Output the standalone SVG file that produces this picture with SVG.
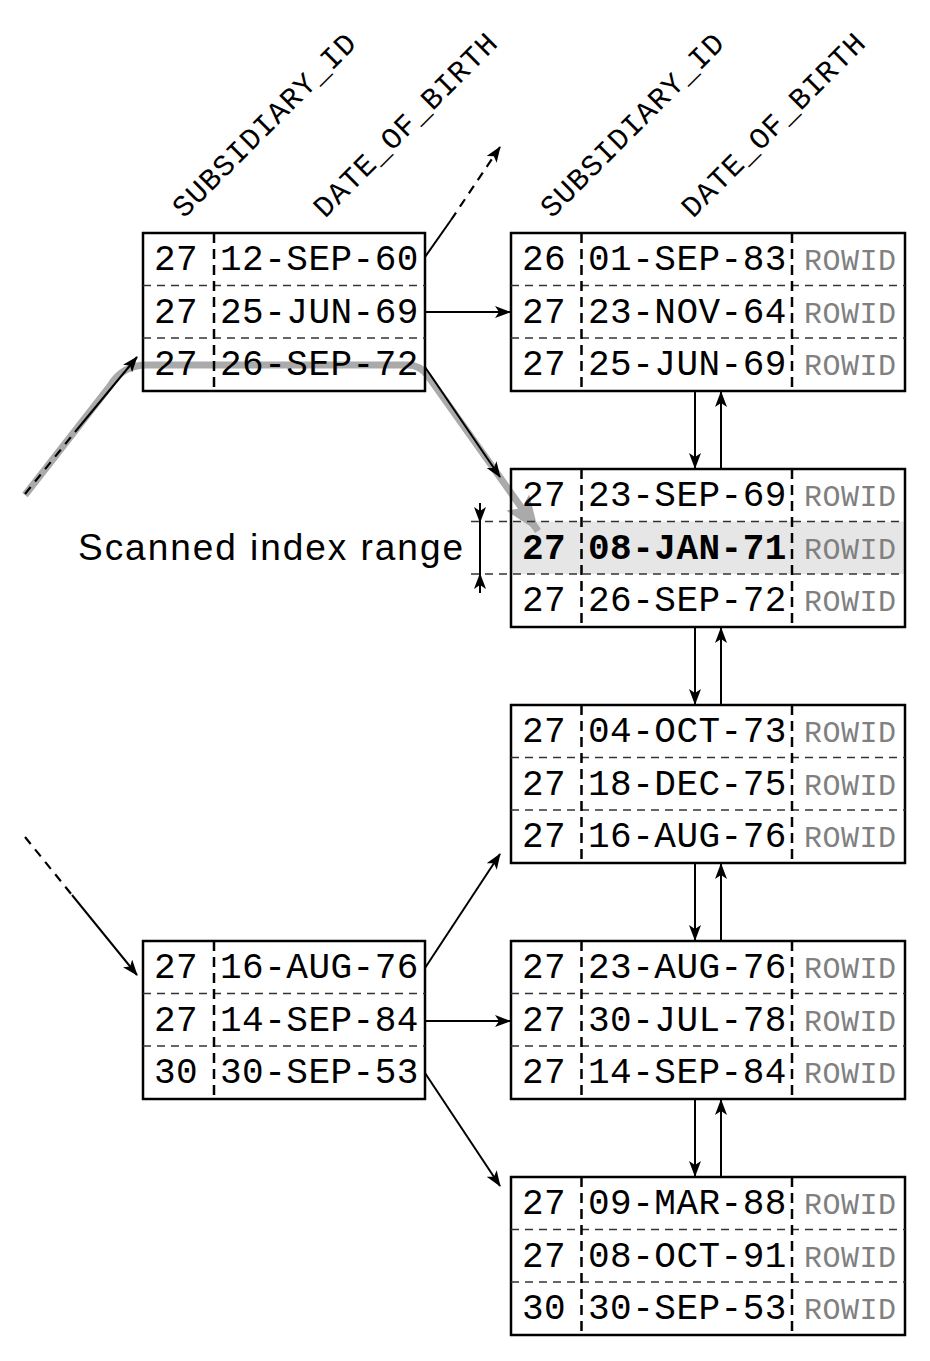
<svg xmlns="http://www.w3.org/2000/svg" width="930" height="1361" viewBox="0 0 930 1361">
<style>
.box{fill:none;stroke:#000;stroke-width:2.5}
.sep{stroke:#333;stroke-width:1.5;stroke-dasharray:8,6;fill:none}
.col{stroke:#000;stroke-width:2.5;stroke-dasharray:10,6;fill:none}
.t{font-family:"Liberation Mono","Courier New",monospace;font-size:36px;fill:#000;letter-spacing:0.5px}
.r{font-family:"Liberation Mono","Courier New",monospace;font-size:30px;fill:#808080;letter-spacing:0.5px}
.h{font-family:"Liberation Mono","Courier New",monospace;font-size:30px;fill:#000;letter-spacing:1px}
.b{font-weight:bold}
.ln{stroke:#000;stroke-width:2;fill:none}
.dl{stroke:#000;stroke-width:2.2;fill:none;stroke-dasharray:9,7}
.lbl{font-family:"Liberation Sans",Arial,sans-serif;font-size:37px;fill:#000}
</style>
<defs>
<marker id="ah" markerWidth="16" markerHeight="12" refX="15" refY="6" orient="auto" markerUnits="userSpaceOnUse">
<path d="M0,0 L16,6 L0,12 L4,6 z" fill="#000"/>
</marker>
<marker id="ga" markerWidth="36" markerHeight="28" refX="35" refY="14" orient="auto" markerUnits="userSpaceOnUse">
<path d="M0,0 L36,14 L0,28 L7,14 z" fill="#aaaaaa"/>
</marker>
</defs>

<g id="highlight">
<rect x="511" y="521.5" width="394" height="52.5" fill="#e6e6e6"/>
</g>

<g id="scan-path">
<path d="M25,495 L110,386 Q122,365 147,365 L408,365 Q420,365 428,376 L538,531" stroke="#aaaaaa" stroke-width="7" fill="none" marker-end="url(#ga)"/>
</g>

<g id="headers">
<text class="h" transform="translate(184,219) rotate(-45)">SUBSIDIARY_ID</text>
<text class="h" transform="translate(325,219) rotate(-45)">DATE_OF_BIRTH</text>
<text class="h" transform="translate(552,219) rotate(-45)">SUBSIDIARY_ID</text>
<text class="h" transform="translate(693,219) rotate(-45)">DATE_OF_BIRTH</text>
</g>

<g id="branch-top">
<rect class="box" x="143" y="233" width="282" height="158"/>
<line class="sep" x1="143" y1="285.5" x2="425" y2="285.5"/>
<line class="sep" x1="143" y1="338" x2="425" y2="338"/>
<line class="col" x1="214" y1="233" x2="214" y2="391"/>
<text class="t" x="154" y="270">27</text><text class="t" x="220" y="270">12-SEP-60</text>
<text class="t" x="154" y="322.5">27</text><text class="t" x="220" y="322.5">25-JUN-69</text>
<text class="t" x="154" y="375">27</text><text class="t" x="220" y="375">26-SEP-72</text>
</g>

<g id="branch-bottom">
<rect class="box" x="143" y="941" width="282" height="158"/>
<line class="sep" x1="143" y1="993.5" x2="425" y2="993.5"/>
<line class="sep" x1="143" y1="1046" x2="425" y2="1046"/>
<line class="col" x1="214" y1="941" x2="214" y2="1099"/>
<text class="t" x="154" y="978">27</text><text class="t" x="220" y="978">16-AUG-76</text>
<text class="t" x="154" y="1030.5">27</text><text class="t" x="220" y="1030.5">14-SEP-84</text>
<text class="t" x="154" y="1083">30</text><text class="t" x="220" y="1083">30-SEP-53</text>
</g>

<g id="leaf1">
<rect class="box" x="511" y="233" width="394" height="158"/>
<line class="sep" x1="511" y1="285.5" x2="905" y2="285.5"/>
<line class="sep" x1="511" y1="338" x2="905" y2="338"/>
<line class="col" x1="581.5" y1="233" x2="581.5" y2="391"/>
<line class="col" x1="792" y1="233" x2="792" y2="391"/>
<text class="t" x="522" y="270">26</text><text class="t" x="588" y="270">01-SEP-83</text><text class="r" x="804" y="270">ROWID</text>
<text class="t" x="522" y="322.5">27</text><text class="t" x="588" y="322.5">23-NOV-64</text><text class="r" x="804" y="322.5">ROWID</text>
<text class="t" x="522" y="375">27</text><text class="t" x="588" y="375">25-JUN-69</text><text class="r" x="804" y="375">ROWID</text>
</g>

<g id="leaf2">
<rect class="box" x="511" y="469" width="394" height="158"/>
<line class="sep" x1="471" y1="521.5" x2="905" y2="521.5"/>
<line class="sep" x1="471" y1="574" x2="905" y2="574"/>
<line class="col" x1="581.5" y1="469" x2="581.5" y2="627"/>
<line class="col" x1="792" y1="469" x2="792" y2="627"/>
<text class="t" x="522" y="506">27</text><text class="t" x="588" y="506">23-SEP-69</text><text class="r" x="804" y="506">ROWID</text>
<text class="t b" x="522" y="558.5">27</text><text class="t b" x="588" y="558.5">08-JAN-71</text><text class="r" x="804" y="558.5">ROWID</text>
<text class="t" x="522" y="611">27</text><text class="t" x="588" y="611">26-SEP-72</text><text class="r" x="804" y="611">ROWID</text>
</g>

<g id="leaf3">
<rect class="box" x="511" y="705" width="394" height="158"/>
<line class="sep" x1="511" y1="757.5" x2="905" y2="757.5"/>
<line class="sep" x1="511" y1="810" x2="905" y2="810"/>
<line class="col" x1="581.5" y1="705" x2="581.5" y2="863"/>
<line class="col" x1="792" y1="705" x2="792" y2="863"/>
<text class="t" x="522" y="742">27</text><text class="t" x="588" y="742">04-OCT-73</text><text class="r" x="804" y="742">ROWID</text>
<text class="t" x="522" y="794.5">27</text><text class="t" x="588" y="794.5">18-DEC-75</text><text class="r" x="804" y="794.5">ROWID</text>
<text class="t" x="522" y="847">27</text><text class="t" x="588" y="847">16-AUG-76</text><text class="r" x="804" y="847">ROWID</text>
</g>

<g id="leaf4">
<rect class="box" x="511" y="941" width="394" height="158"/>
<line class="sep" x1="511" y1="993.5" x2="905" y2="993.5"/>
<line class="sep" x1="511" y1="1046" x2="905" y2="1046"/>
<line class="col" x1="581.5" y1="941" x2="581.5" y2="1099"/>
<line class="col" x1="792" y1="941" x2="792" y2="1099"/>
<text class="t" x="522" y="978">27</text><text class="t" x="588" y="978">23-AUG-76</text><text class="r" x="804" y="978">ROWID</text>
<text class="t" x="522" y="1030.5">27</text><text class="t" x="588" y="1030.5">30-JUL-78</text><text class="r" x="804" y="1030.5">ROWID</text>
<text class="t" x="522" y="1083">27</text><text class="t" x="588" y="1083">14-SEP-84</text><text class="r" x="804" y="1083">ROWID</text>
</g>

<g id="leaf5">
<rect class="box" x="511" y="1177" width="394" height="158"/>
<line class="sep" x1="511" y1="1229.5" x2="905" y2="1229.5"/>
<line class="sep" x1="511" y1="1282" x2="905" y2="1282"/>
<line class="col" x1="581.5" y1="1177" x2="581.5" y2="1335"/>
<line class="col" x1="792" y1="1177" x2="792" y2="1335"/>
<text class="t" x="522" y="1214">27</text><text class="t" x="588" y="1214">09-MAR-88</text><text class="r" x="804" y="1214">ROWID</text>
<text class="t" x="522" y="1266.5">27</text><text class="t" x="588" y="1266.5">08-OCT-91</text><text class="r" x="804" y="1266.5">ROWID</text>
<text class="t" x="522" y="1319">30</text><text class="t" x="588" y="1319">30-SEP-53</text><text class="r" x="804" y="1319">ROWID</text>
</g>

<g id="range-label">
<text class="lbl" x="78" y="560" textLength="385" lengthAdjust="spacing">Scanned index range</text>
<line class="ln" x1="480" y1="521.5" x2="480" y2="574"/>
<path class="ln" d="M480,503 L480,522" marker-end="url(#ah)"/>
<path class="ln" d="M480,593 L480,574" marker-end="url(#ah)"/>
</g>

<g id="connectors">
<line class="ln" x1="425" y1="257" x2="451" y2="220"/>
<path class="dl" d="M451,220 L500,147" marker-end="url(#ah)"/>
<path class="ln" d="M425,312 L510,312" marker-end="url(#ah)"/>
<path class="dl" d="M25,494 L75,432"/>
<path class="ln" d="M75,432 L137,357" marker-end="url(#ah)"/>
<path class="ln" d="M425,367 L500,477" marker-end="url(#ah)"/>
<path class="ln" d="M695,391 L695,468" marker-end="url(#ah)"/>
<path class="ln" d="M721,469 L721,392" marker-end="url(#ah)"/>
<path class="ln" d="M695,627 L695,704" marker-end="url(#ah)"/>
<path class="ln" d="M721,705 L721,628" marker-end="url(#ah)"/>
<path class="ln" d="M695,863 L695,940" marker-end="url(#ah)"/>
<path class="ln" d="M721,941 L721,864" marker-end="url(#ah)"/>
<path class="ln" d="M695,1099 L695,1176" marker-end="url(#ah)"/>
<path class="ln" d="M721,1177 L721,1100" marker-end="url(#ah)"/>
<path class="dl" d="M25,837 L72,895"/>
<path class="ln" d="M72,895 L137,975" marker-end="url(#ah)"/>
<path class="ln" d="M425,968 L500,854" marker-end="url(#ah)"/>
<path class="ln" d="M425,1021 L510,1021" marker-end="url(#ah)"/>
<path class="ln" d="M425,1073 L500,1186" marker-end="url(#ah)"/>
</g>
</svg>
